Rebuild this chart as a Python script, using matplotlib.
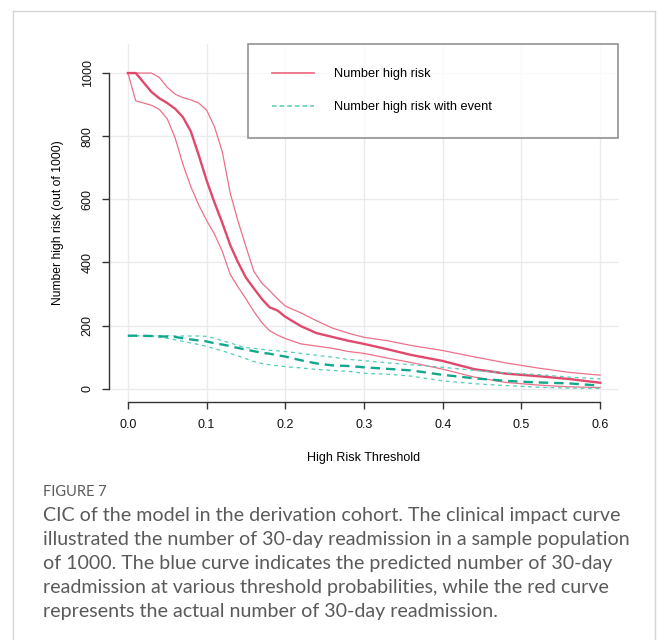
import numpy as np
import matplotlib
matplotlib.use("Agg")
import matplotlib.pyplot as plt
from matplotlib.lines import Line2D

# threshold grid
thresholds = [0.00, 0.01, 0.03, 0.04, 0.05, 0.06, 0.07, 0.08, 0.09, 0.10,
              0.11, 0.12, 0.13, 0.14, 0.15, 0.16, 0.17, 0.18, 0.19, 0.20,
              0.22, 0.24, 0.26, 0.28, 0.30, 0.33, 0.36, 0.40, 0.44, 0.48,
              0.52, 0.56, 0.60]

# Number high risk (median + interval)
high_risk = [1000, 1000, 940, 920, 905, 887, 860, 815, 740, 660,
             590, 525, 455, 400, 352, 318, 285, 258, 248, 228,
             198, 176, 164, 152, 142, 125, 107, 88, 62, 48,
             40, 31, 19]
high_risk_upper = [1000, 1000, 1000, 986, 955, 933, 922, 915, 905, 883,
                   830, 750, 620, 530, 450, 372, 335, 311, 285, 262,
                   240, 215, 192, 176, 163, 152, 137, 121, 101, 82,
                   66, 52, 43]
high_risk_lower = [1000, 912, 898, 885, 855, 795, 710, 640, 582, 533,
                   490, 435, 362, 322, 285, 245, 210, 184, 170, 159,
                   142, 135, 128, 118, 112, 97, 83, 62, 37, 20,
                   12, 6, 4]

# Number high risk with event
with_event = [168, 168, 167, 166, 165, 164, 160, 156, 153, 150,
              144, 140, 135, 129, 124, 119, 114, 111, 106, 102,
              90, 80, 74, 72, 68, 63, 58, 44, 33, 25,
              20, 17, 10]
with_event_upper = [168, 168, 168, 168, 168, 167, 167, 167, 167, 166,
                    160, 152, 145, 137, 130, 128, 125, 122, 120, 118,
                    112, 106, 100, 93, 89, 82, 76, 68, 58, 50,
                    45, 37, 31]
with_event_lower = [168, 168, 166, 163, 160, 155, 150, 145, 140, 134,
                    127, 120, 112, 104, 95, 86, 80, 76, 73, 70,
                    66, 61, 58, 55, 49, 46, 40, 25, 16, 10,
                    5, 2, 1]

x_ticks = [0.0, 0.1, 0.2, 0.3, 0.4, 0.5, 0.6]
y_ticks = [0, 200, 400, 600, 800, 1000]

caption_lines = [
    "CIC of the model in the derivation cohort. The clinical impact curve",
    "illustrated the number of 30-day readmission in a sample population",
    "of 1000. The blue curve indicates the predicted number of 30-day",
    "readmission at various threshold probabilities, while the red curve",
    "represents the actual number of 30-day readmission.",
]

red = "#E0496B"
red_light = "#EC7189"
teal = "#12A88D"
teal_light = "#52CDB9"

W, H = 658, 640
fig = plt.figure(figsize=(W / 100, H / 100), dpi=100)
plt.rcParams['font.family'] = ['Liberation Sans', 'DejaVu Sans']

ax = fig.add_axes([109 / W, (H - 402) / H, (619 - 109) / W, (402 - 44) / H])
ax.set_xlim(-0.024, 0.624)
ax.set_ylim(-42, 1092)

for xt in x_ticks:
    ax.axvline(xt, color="#EBEBEB", lw=1, zorder=0)
for yt in y_ticks:
    ax.axhline(yt, color="#EBEBEB", lw=1, zorder=0)

ax.plot(thresholds, high_risk_upper, color=red_light, lw=0.9)
ax.plot(thresholds, high_risk_lower, color=red_light, lw=0.9)
ax.plot(thresholds, high_risk, color=red, lw=1.7)
ax.plot(thresholds, with_event_upper, color=teal_light, lw=0.9, dashes=(3, 3))
ax.plot(thresholds, with_event_lower, color=teal_light, lw=0.9, dashes=(3, 3))
ax.plot(thresholds, with_event, color=teal, lw=1.7, dashes=(4, 2.5))

for side in ["top", "right"]:
    ax.spines[side].set_visible(False)
ax.spines["left"].set_bounds(0, 1000)
ax.spines["bottom"].set_bounds(0, 0.6)
for side in ["left", "bottom"]:
    ax.spines[side].set_color("#333333")
    ax.spines[side].set_linewidth(1.0)

ax.set_xticks(x_ticks)
ax.set_xticklabels([f"{v:.1f}" for v in x_ticks])
ax.set_yticks(y_ticks)
ax.set_yticklabels([str(v) for v in y_ticks], rotation=90, va="center")
ax.tick_params(axis="both", length=5, width=1.0, color="#333333",
               labelsize=9, labelcolor="#111111")
ax.tick_params(axis="x", pad=7)
ax.tick_params(axis="y", pad=6)

ax.set_xlabel("High Risk Threshold", fontsize=9, labelpad=15)
ax.set_ylabel("Number high risk (out of 1000)", fontsize=8.7, labelpad=13)

handles = [Line2D([], [], color=red_light, lw=1.3),
           Line2D([], [], color=teal_light, lw=1.1, dashes=(3, 2))]
leg = ax.legend(handles, ["Number high risk", "Number high risk with event"],
                loc="upper left", bbox_to_anchor=(248 / W, (H - 44) / H, (618 - 248) / W, 0.0),
                bbox_transform=fig.transFigure, mode="expand",
                fontsize=9.2, frameon=True, fancybox=False,
                borderpad=1.9, labelspacing=1.66, handlelength=3.3,
                handletextpad=1.55, borderaxespad=0)
leg.get_frame().set_edgecolor("#777777")
leg.get_frame().set_linewidth(1.2)

# outer frame of the figure panel
fig.add_artist(Line2D([13 / W, 13 / W], [0, (H - 11) / H], color="#D5D5D5", lw=1,
                      transform=fig.transFigure))
fig.add_artist(Line2D([13 / W, 655 / W], [(H - 11) / H, (H - 11) / H], color="#D5D5D5", lw=1,
                      transform=fig.transFigure))
fig.add_artist(Line2D([655 / W, 655 / W], [0, (H - 11) / H], color="#D5D5D5", lw=1,
                      transform=fig.transFigure))

cap_font = ['Lato', 'DejaVu Sans']
fig.text(43 / W, (H - 492) / H, "FIGURE 7", fontsize=10.5, color="#5A5A5A",
         family=cap_font, va="center", ha="left")
for i, line in enumerate(caption_lines):
    fig.text(43 / W, (H - 515 - 24 * i) / H, line, fontsize=14.1, color="#5A5A5A",
             family=cap_font, va="center", ha="left")

fig.savefig("out.png", dpi=100)
